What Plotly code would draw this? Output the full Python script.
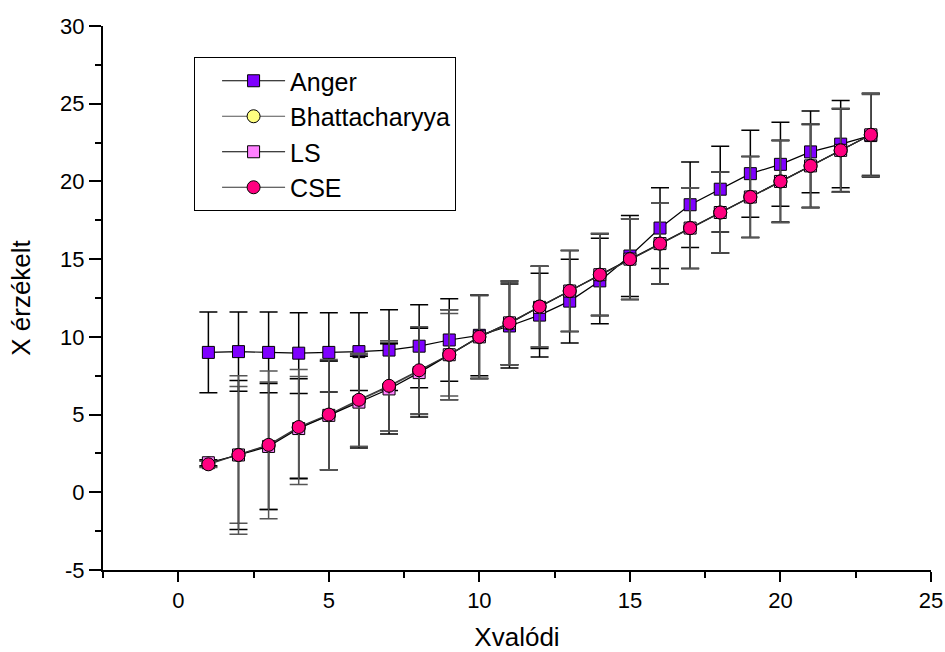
import plotly.graph_objects as go

# Measured vs. true position
x_true = list(range(1, 24))

anger = [9.0, 9.05, 9.0, 8.95, 9.0, 9.05, 9.15, 9.4, 9.8, 10.1, 10.7, 11.4,
         12.3, 13.6, 15.2, 17.0, 18.5, 19.5, 20.5, 21.1, 21.9, 22.4, 22.95]
anger_err = [2.6, 2.55, 2.6, 2.6, 2.55, 2.5, 2.6, 2.67, 2.65, 2.6, 2.7, 2.7,
             2.7, 2.75, 2.6, 2.6, 2.75, 2.76, 2.8, 2.7, 2.63, 2.8, 2.67]

bhatt = [1.85, 2.4, 3.0, 4.15, 4.95, 5.9, 6.8, 7.8, 8.85, 10.0, 10.85, 11.95,
         12.95, 14.0, 15.0, 16.0, 17.0, 18.0, 19.0, 20.0, 21.0, 22.0, 23.0]
bhatt_err = [0.2, 4.4, 4.1, 3.3, 3.5, 2.95, 2.85, 2.8, 2.65, 2.65, 2.65, 2.6,
             2.6, 2.6, 2.6, 2.6, 2.6, 2.6, 2.6, 2.6, 2.65, 2.65, 2.6]

ls = [1.9, 2.4, 2.95, 4.1, 4.95, 5.8, 6.65, 7.7, 8.85, 10.0, 10.9, 11.9,
      12.95, 14.0, 15.0, 16.0, 17.0, 18.0, 19.0, 20.0, 21.0, 22.0, 23.0]
ls_err = [0.2, 4.8, 4.05, 3.2, 3.5, 2.95, 2.9, 2.85, 2.9, 2.7, 2.7, 2.65,
          2.6, 2.65, 2.6, 2.6, 2.6, 2.6, 2.6, 2.65, 2.7, 2.7, 2.67]

cse = [1.8, 2.4, 3.05, 4.2, 5.0, 5.95, 6.85, 7.85, 8.85, 10.0, 10.9, 11.95,
       12.95, 14.0, 15.0, 16.0, 17.0, 18.0, 19.0, 20.0, 21.0, 22.0, 23.0]
cse_err = [0.2, 5.1, 4.75, 3.7, 3.55, 3.0, 2.9, 2.8, 2.9, 2.7, 2.7, 2.6,
           2.6, 2.65, 2.6, 2.6, 2.6, 2.6, 2.6, 2.65, 2.7, 2.7, 2.67]

x_ticks = [0, 5, 10, 15, 20, 25]
x_tick_text = ["0", "5", "10", "15", "20", "25"]
y_ticks = [-5, 0, 5, 10, 15, 20, 25, 30]
y_tick_text = ["-5", "0", "5", "10", "15", "20", "25", "30"]

series = [
    ("Anger", anger, anger_err, "square", "#7F00FF", "#000000", "#000000"),
    ("Bhattacharyya", bhatt, bhatt_err, "circle", "#FFFF80", "#555555", "#555555"),
    ("LS", ls, ls_err, "square", "#FF80FF", "#000000", "#000000"),
    ("CSE", cse, cse_err, "circle", "#FF0080", "#333333", "#555555"),
]

fig = go.Figure()
for name, ys, errs, sym, fill, line_col, err_col in series:
    fig.add_trace(go.Scatter(
        x=x_true, y=ys, name=name, mode="lines+markers",
        line=dict(color=line_col, width=1.2),
        marker=dict(symbol=sym, size=13 if sym == "circle" else 12,
                    color=fill, line=dict(color="#000000", width=1)),
        error_y=dict(type="data", array=errs, visible=True,
                     color=err_col, thickness=1.5, width=9),
    ))

FONT = "Liberation Sans, Arial, sans-serif"
axis_font = dict(family=FONT, size=22, color="#000000")

fig.update_layout(
    width=945, height=652,
    margin=dict(l=103, r=14, t=26, b=82),
    paper_bgcolor="white", plot_bgcolor="white",
    font=dict(family=FONT, color="#000000"),
    showlegend=True,
    legend=dict(
        x=0.11, y=0.943, xanchor="left", yanchor="top",
        bgcolor="white", bordercolor="#000000", borderwidth=1,
        font=dict(size=25, family=FONT),
        indentation=22, itemwidth=63, tracegroupgap=0,
    ),
    xaxis=dict(
        range=[-2.5, 25], tickvals=x_ticks, ticktext=x_tick_text,
        showgrid=False, zeroline=False, automargin=False,
        showline=True, linecolor="#000000", linewidth=2,
        ticks="outside", ticklen=10, tickwidth=2, tickcolor="#000000",
        minor=dict(ticks="outside", ticklen=6, tickwidth=2, dtick=2.5, tick0=0,
                   tickcolor="#000000", showgrid=False),
        tickfont=axis_font,
        title=dict(text="Xvalódi", font=dict(size=26), standoff=21),
    ),
    yaxis=dict(
        range=[-5, 30], tickvals=y_ticks, ticktext=y_tick_text,
        showgrid=False, zeroline=False, automargin=False,
        showline=True, linecolor="#000000", linewidth=2,
        ticks="outside", ticklen=12, tickwidth=2, tickcolor="#000000",
        minor=dict(ticks="outside", ticklen=6, tickwidth=2, dtick=2.5, tick0=0,
                   tickcolor="#000000", showgrid=False),
        tickfont=axis_font,
        title=dict(text="X érzékelt", font=dict(size=26), standoff=22),
    ),
)

fig.write_html("out.html")
